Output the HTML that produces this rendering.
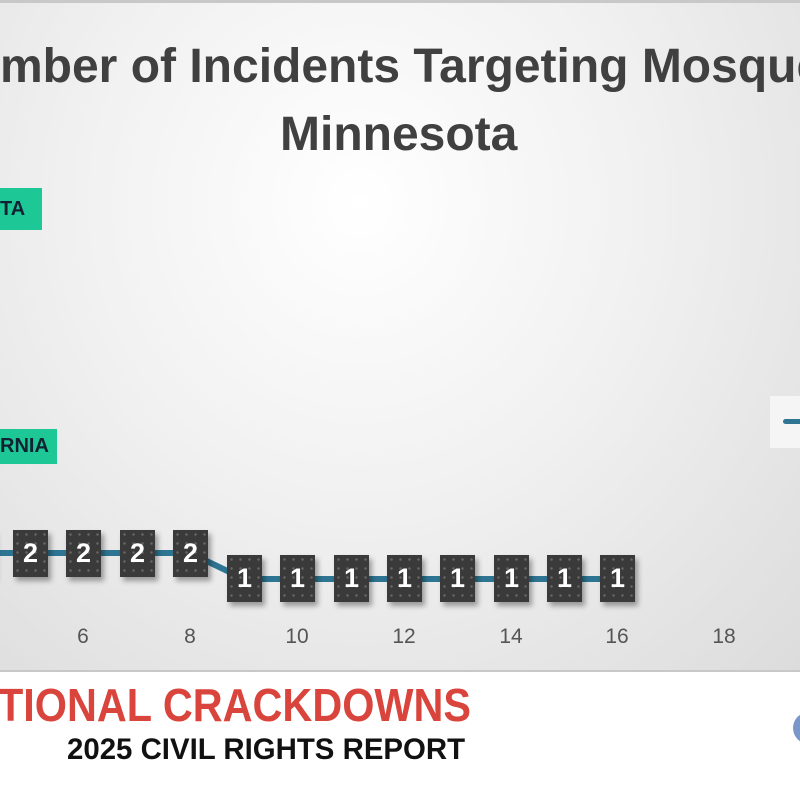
<!DOCTYPE html>
<html><head><meta charset="utf-8"><style>
html,body{margin:0;padding:0;width:800px;height:800px;overflow:hidden;background:#fff;font-family:"Liberation Sans",sans-serif;}
.chart{position:absolute;left:0;top:0;width:800px;height:672px;background:radial-gradient(ellipse at 45% 30%,#ffffff 0%,#f1f1f1 45%,#dcdcdc 100%);border-top:3px solid #c8c8c8;border-bottom:2px solid #c8c8c8;box-sizing:border-box;}
.t{position:absolute;font-weight:bold;color:#404040;font-size:48px;white-space:nowrap;line-height:1;}
.g{position:absolute;background:#1dc896;color:#123;font-weight:bold;font-size:20px;line-height:1;}
.b{position:absolute;width:35px;height:47px;background:#3a3a3a;background-image:radial-gradient(#666 1px,transparent 1.5px);background-size:9px 9px;color:#fff;font-weight:bold;font-size:27px;text-align:center;line-height:47px;box-shadow:3px 4px 5px rgba(0,0,0,.35);}
.x{position:absolute;top:622px;font-size:21px;color:#555;width:40px;text-align:center;}
</style></head><body>
<div class="chart">
<div class="t" style="left:-64px;top:40px;">Number of Incidents Targeting Mosques in</div>
<div class="t" style="left:280px;top:108px;">Minnesota</div>
<div class="g" style="left:0;top:185px;width:42px;height:42px;line-height:42px;">TA</div>
<div class="g" style="left:0;top:426px;width:57px;height:35px;line-height:35px;">RNIA</div>
<div style="position:absolute;left:770px;top:393px;width:40px;height:52px;background:#f5f5f5;"></div>
<div style="position:absolute;left:783px;top:416px;width:20px;height:5px;border-radius:3px;background:#2e7593;"></div>
<svg width="800" height="672" style="position:absolute;left:0;top:0">
<polyline fill="none" stroke="#2e7593" stroke-width="6" points="-23,550 30,550 83,550 137,550 190,550 244,576 297,576 351,576 404,576 457,576 511,576 564,576 617,576"/>
</svg>
<div class="b" style="left:-41px;top:527px">2</div>
<div class="b" style="left:13px;top:527px">2</div>
<div class="b" style="left:66px;top:527px">2</div>
<div class="b" style="left:120px;top:527px">2</div>
<div class="b" style="left:173px;top:527px">2</div>
<div class="b" style="left:227px;top:552px">1</div>
<div class="b" style="left:280px;top:552px">1</div>
<div class="b" style="left:334px;top:552px">1</div>
<div class="b" style="left:387px;top:552px">1</div>
<div class="b" style="left:440px;top:552px">1</div>
<div class="b" style="left:494px;top:552px">1</div>
<div class="b" style="left:547px;top:552px">1</div>
<div class="b" style="left:600px;top:552px">1</div>
<div class="x" style="left:63px">6</div>
<div class="x" style="left:170px">8</div>
<div class="x" style="left:277px">10</div>
<div class="x" style="left:384px">12</div>
<div class="x" style="left:491px">14</div>
<div class="x" style="left:597px">16</div>
<div class="x" style="left:704px">18</div>
</div>
<div style="position:absolute;left:-2px;top:682px;font-weight:bold;font-size:46px;line-height:1;color:#d9453c;white-space:nowrap;transform:scaleX(0.9);transform-origin:0 0;">TIONAL CRACKDOWNS</div>
<div style="position:absolute;left:67px;top:735px;font-weight:bold;font-size:30px;line-height:1;color:#111;white-space:nowrap;transform:scaleX(0.98);transform-origin:0 0;">2025 CIVIL RIGHTS REPORT</div>
<div style="position:absolute;left:793px;top:712px;width:32px;height:32px;border-radius:50%;background:#7a97c8;"></div>
</body></html>
